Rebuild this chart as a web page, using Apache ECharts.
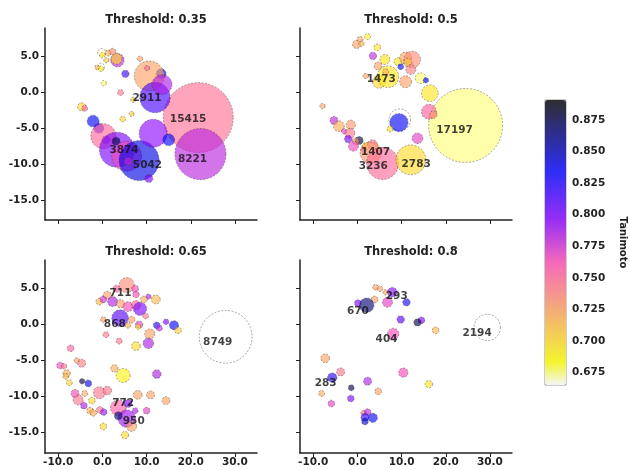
<!DOCTYPE html>
<html><head><meta charset="utf-8">
<script src="https://cdn.jsdelivr.net/npm/echarts@6/dist/echarts.min.js"></script>
<style>html,body{margin:0;padding:0;background:#fff}#c{width:630px;height:470px}</style>
</head><body><div id="c"></div>
<script>
// ---- data: each row = [x, y, cluster size, mean Tanimoto] ----
const thresholds = ['0.35', '0.5', '0.65', '0.8'];

const bubbles035 = [
  [21.7,-3.5,15415,0.748],[22.2,-8.6,8221,0.782],
  [-0.2,5.6,200,0.668],[0.0,5.2,90,0.69],[1.3,5.5,110,0.72],[2.3,5.7,140,0.735],[0.9,4.5,90,0.71],
  [3.4,4.5,560,0.78],[3.2,4.7,380,0.70],[-0.3,3.6,150,0.668],[-1.2,3.5,70,0.72],[-0.3,3.3,90,0.69],
  [0.3,1.3,90,0.676],[5.2,2.6,170,0.82],[4.1,0.0,110,0.745],[8.5,4.7,90,0.725],[13.3,2.6,314,0.84],
  [10.6,2.3,2800,0.725],[10.1,3.4,90,0.752],[11.9,-0.7,2911,0.815],[13.5,1.1,1250,0.785],
  [7.0,-1.0,90,0.71],[4.6,-3.7,100,0.70],[6.6,-3.0,80,0.71],[-4.7,-2.0,200,0.70],[-4.0,-2.2,110,0.752],
  [-2.1,-4.0,450,0.835],[-0.8,-5.0,314,0.82],[0.2,-6.1,1960,0.752],[0.8,-6.6,180,0.772],
  [3.3,-8.0,3874,0.80],[3.1,-6.8,200,0.875],[5.5,-8.9,2800,0.765],[8.3,-9.5,5042,0.84],
  [5.8,-9.6,200,0.78],[10.5,-12.0,200,0.80],[11.5,-5.7,2460,0.795],[15.0,-6.6,450,0.835]
];
const labels035 = [[10.1,-0.8,'2911'],[19.4,-3.7,'15415'],[4.9,-8.1,'3874'],[10.2,-10.2,'5042'],[20.4,-9.3,'8221']];

const bubbles05 = [
  [24.5,-4.6,17197,0.675],
  [0.6,7.4,110,0.725],[-0.2,6.7,200,0.725],[0.9,6.8,90,0.715],[2.3,7.8,110,0.69],[4.5,6.3,140,0.695],
  [3.5,5.1,170,0.78],[6.2,4.6,314,0.695],[4.7,3.7,200,0.725],[1.9,2.3,90,0.725],[4.9,1.5,530,0.70],
  [6.9,2.2,1473,0.695],[6.4,2.9,110,0.72],[9.2,4.3,200,0.695],[9.8,3.6,110,0.83],[10.9,4.8,450,0.725],
  [12.4,4.6,870,0.735],[11.4,4.2,220,0.71],[12.1,3.2,314,0.74],[10.9,1.5,450,0.725],[14.3,2.0,360,0.676],
  [15.5,1.7,90,0.835],[16.4,-0.1,870,0.695],[-7.9,-1.9,90,0.725],[-5.3,-3.9,200,0.78],[-4.2,-4.7,360,0.72],
  [-1.5,-4.5,270,0.73],[-3.0,-5.4,90,0.77],[-1.7,-5.7,314,0.745],[-2.1,-6.5,170,0.80],[0.4,-6.7,200,0.88],
  [-0.4,-6.8,140,0.73],[-0.9,-7.5,314,0.765],[1.9,-7.5,170,0.695],[1.4,-8.0,90,0.775],[3.4,-7.3,314,0.745],
  [3.0,-8.4,1407,0.73],[5.7,-9.9,3236,0.75],[12.1,-9.4,2783,0.70],[9.6,-3.8,1480,0.665],[9.4,-4.2,1050,0.835],
  [7.4,-5.1,110,0.695],[13.6,-6.4,360,0.77],[16.2,-2.7,700,0.755],[17.2,-3.1,170,0.73]
];
const labels05 = [[5.4,1.8,'1473'],[4.1,-8.3,'1407'],[3.6,-10.3,'3236'],[13.3,-10.0,'2783'],[22.0,-5.3,'17197']];

const bubbles065 = [
  [27.9,-1.7,8749,0.665],
  [5.5,5.5,711,0.735],[3.2,5.0,150,0.755],[7.4,5.0,150,0.765],[7.6,4.2,130,0.765],[1.1,4.1,200,0.725],
  [-0.7,3.2,140,0.715],[0.2,3.5,140,0.775],[2.3,3.2,314,0.785],[4.1,2.9,220,0.725],[5.8,2.5,314,0.765],
  [7.6,2.7,270,0.755],[8.5,2.2,555,0.80],[10.4,3.9,90,0.785],[9.4,3.5,140,0.72],[12.1,3.5,250,0.715],
  [0.2,0.7,100,0.725],[4.0,0.9,868,0.81],[6.6,0.7,140,0.725],[5.8,-0.1,100,0.72],[9.8,1.2,100,0.745],
  [8.3,0.0,170,0.77],[8.1,-0.3,90,0.70],[12.3,-0.1,140,0.825],[12.9,-0.5,110,0.78],[14.4,0.4,100,0.80],
  [16.2,-0.1,270,0.835],[17.1,-0.8,140,0.705],[10.7,-1.3,314,0.725],[10.4,-2.6,360,0.785],[7.6,-3.0,240,0.70],
  [3.8,-2.3,110,0.745],[0.8,-1.4,110,0.745],[-7.2,-3.3,140,0.755],[-9.6,-5.7,140,0.765],[-8.7,-5.8,90,0.745],
  [-5.8,-5.0,90,0.725],[-4.7,-5.4,200,0.74],[-8.1,-6.8,170,0.72],[-8.3,-7.2,110,0.715],[-7.5,-8.1,110,0.70],
  [-4.6,-7.9,90,0.88],[-3.2,-8.2,140,0.84],[2.7,-6.1,170,0.72],[4.7,-7.1,615,0.69],[12.3,-6.9,240,0.785],
  [-6.2,-9.6,200,0.765],[-5.5,-10.5,314,0.745],[-4.0,-9.6,110,0.72],[-2.4,-10.6,140,0.70],[-0.7,-9.5,450,0.745],
  [1.1,-9.2,240,0.745],[8.0,-9.8,240,0.725],[10.9,-9.8,200,0.725],[14.4,-10.6,200,0.725],[10.0,-12.0,140,0.77],
  [-4.2,-11.3,140,0.785],[-2.8,-12.0,140,0.72],[-2.1,-12.3,140,0.72],[-0.6,-11.9,140,0.745],[0.3,-12.2,140,0.79],
  [0.2,-14.2,140,0.70],[3.6,-11.6,772,0.755],[5.8,-11.0,200,0.80],[5.5,-13.1,950,0.79],[3.6,-12.7,200,0.865],
  [6.6,-14.2,314,0.725],[5.1,-15.4,170,0.70],[7.4,-12.0,110,0.785]
];
const labels065 = [[4.1,4.3,'711'],[2.8,0.0,'868'],[26.1,-2.4,'8749'],[4.7,-11.0,'772'],[7.1,-13.5,'950']];

const bubbles08 = [
  [29.4,-0.4,2194,0.665],
  [4.1,5.2,100,0.725],[5.1,5.0,100,0.725],[6.4,4.5,90,0.72],[7.9,4.5,293,0.795],[3.9,3.5,140,0.725],
  [6.8,3.1,314,0.77],[11.1,3.1,170,0.83],[0.1,3.0,140,0.80],[2.1,2.7,670,0.865],[9.8,0.7,170,0.81],
  [14.5,0.6,140,0.80],[13.6,0.3,170,0.875],[17.7,-0.8,140,0.715],[8.1,-1.3,404,0.765],
  [-7.3,-4.7,240,0.725],[-3.8,-6.6,200,0.745],[-5.7,-7.4,283,0.825],[2.3,-7.9,200,0.785],[10.4,-6.7,270,0.765],
  [16.2,-8.3,170,0.695],[-1.4,-8.8,110,0.875],[4.7,-9.3,140,0.725],[-8.1,-9.6,110,0.72],[-1.5,-10.3,140,0.80],
  [-5.9,-11.0,140,0.77],[1.4,-12.3,90,0.745],[2.3,-12.2,140,0.78],[1.7,-12.9,200,0.82],[3.5,-13.0,270,0.835],
  [1.7,-13.5,140,0.845]
];
const labels08 = [[8.9,4.0,'293'],[0.1,1.9,'670'],[6.6,-2.0,'404'],[27.1,-1.2,'2194'],[-7.2,-8.2,'283']];

const xTicks = [-10, 0, 10, 20, 30];
const yTicks = [-15, -10, -5, 0, 5];
const colorbarTicks = [0.675, 0.700, 0.725, 0.750, 0.775, 0.800, 0.825, 0.850, 0.875];
const colorMin = 0.6653, colorMax = 0.8908;

// ---- colour map (gnuplot2 reversed, with transparency) ----
function gnuplot2(x, a) {
  const c = v => Math.max(0, Math.min(1, v));
  const r = c(x / 0.32 - 0.78125), g = c(2 * x - 0.84);
  let b = x < 0.25 ? 4 * x : x < 0.42 ? 1 : x < 0.92 ? -2 * x + 1.84 : x / 0.08 - 11.5;
  b = c(b);
  return `rgba(${Math.round(r*255)},${Math.round(g*255)},${Math.round(b*255)},${a})`;
}
const stops = [];
for (let i = 0; i <= 100; i++) stops.push(gnuplot2(1 - i / 100, 0.78));

const FONT = 'DejaVu Sans';
const panels = [bubbles035, bubbles05, bubbles065, bubbles08];
const labelSets = [labels035, labels05, labels065, labels08];
const gridPos = [
  {left: 45, top: 28, width: 212, height: 192},
  {left: 300, top: 28, width: 212, height: 192},
  {left: 45, top: 260, width: 212, height: 193},
  {left: 300, top: 260, width: 212, height: 193}
];
const yMins = [-17.8, -17.8, -17.9, -17.9];

const grid = gridPos.map(g => Object.assign({}, g));
grid.push({left: 545, top: 100, width: 21, height: 285, show: true, borderColor: '#999', borderWidth: 1, backgroundColor: 'transparent'});

const axisText = {color: '#222', fontFamily: FONT, fontWeight: 'bold', fontSize: 10.5};
const xAxis = [], yAxis = [], series = [], title = [];
for (let i = 0; i < 4; i++) {
  xAxis.push({
    gridIndex: i, type: 'value', min: -13, max: 35,
    axisLine: {show: true, onZero: false, lineStyle: {color: '#222', width: 1.5}},
    axisTick: {show: true, customValues: xTicks, length: 4, lineStyle: {color: '#222', width: 1}},
    axisLabel: Object.assign({show: i >= 2, customValues: xTicks, margin: 4, formatter: v => v.toFixed(1)}, axisText),
    splitLine: {show: false}
  });
  yAxis.push({
    gridIndex: i, type: 'value', min: yMins[i], max: 9.0,
    axisLine: {show: true, onZero: false, lineStyle: {color: '#222', width: 1.5}},
    axisTick: {show: true, customValues: yTicks, length: 4, lineStyle: {color: '#222', width: 1}},
    axisLabel: Object.assign({show: i % 2 === 0, customValues: yTicks, margin: 6, formatter: v => v.toFixed(1)}, axisText),
    splitLine: {show: false}
  });
  const g = gridPos[i];
  title.push({
    text: 'Threshold: ' + thresholds[i], left: g.left + g.width / 2, top: g.top - 19, textAlign: 'center',
    textStyle: {fontFamily: FONT, fontWeight: 'bold', fontSize: 11.5, color: '#222'}
  });
  series.push({
    type: 'scatter', xAxisIndex: i, yAxisIndex: i, data: panels[i],
    symbolSize: d => 0.564 * Math.sqrt(d[2]),
    itemStyle: {borderColor: 'rgba(50,50,50,0.75)', borderWidth: 0.7, borderType: [2, 1.5]},
    emphasis: {disabled: true}, z: 2
  });
  series.push({
    type: 'scatter', xAxisIndex: i, yAxisIndex: i, data: labelSets[i], symbolSize: 0,
    label: {show: true, position: 'inside', formatter: p => p.data[2], color: '#111',
      fontFamily: FONT, fontWeight: 'bold', fontSize: 10.5},
    itemStyle: {color: 'transparent'}, emphasis: {disabled: true}, z: 5
  });
}
// colour bar axis
xAxis.push({gridIndex: 4, type: 'value', min: 0, max: 1, show: false});
yAxis.push({
  gridIndex: 4, type: 'value', position: 'right', min: colorMin, max: colorMax,
  name: 'Tanimoto', nameLocation: 'middle', nameRotate: -90, nameGap: 52,
  nameTextStyle: {fontFamily: FONT, fontWeight: 'bold', fontSize: 10, color: '#222'},
  axisLine: {show: false},
  axisTick: {show: true, customValues: colorbarTicks, length: 3, lineStyle: {color: '#222'}},
  axisLabel: Object.assign({customValues: colorbarTicks, margin: 6, formatter: v => v.toFixed(3)}, axisText),
  splitLine: {show: false}
});
series.push({type: 'scatter', xAxisIndex: 4, yAxisIndex: 4, data: [], silent: true});

const chart = echarts.init(document.getElementById('c'), null, {renderer: 'canvas'});
chart.setOption({
  animation: false,
  backgroundColor: '#fff',
  title, grid, xAxis, yAxis, series,
  visualMap: [{
    type: 'continuous', seriesIndex: [0, 2, 4, 6], dimension: 3,
    min: colorMin, max: colorMax, inRange: {color: stops},
    orient: 'vertical', left: 545, top: 100, itemWidth: 21, itemHeight: 285,
    calculable: false, hoverLink: false, text: null, showLabel: false, padding: 0
  }]
});
</script></body></html>
